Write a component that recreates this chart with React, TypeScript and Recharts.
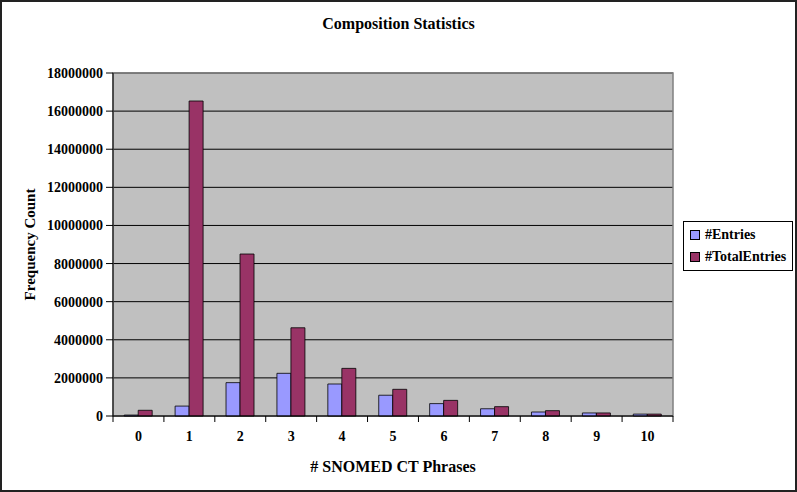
import React from 'react';
import { BarChart, Bar, XAxis, YAxis, CartesianGrid, Legend, ReferenceArea } from 'recharts';

const categories = ['0', '1', '2', '3', '4', '5', '6', '7', '8', '9', '10'];
const entries = [50000, 520000, 1750000, 2240000, 1680000, 1090000, 650000, 380000, 210000, 160000, 100000];
const totalEntries = [300000, 16530000, 8500000, 4630000, 2500000, 1400000, 820000, 490000, 280000, 160000, 100000];
const yTicks = [0, 2000000, 4000000, 6000000, 8000000, 10000000, 12000000, 14000000, 16000000, 18000000];

const data = categories.map((c, i) => ({ name: c, entries: entries[i], total: totalEntries[i] }));

const W = 797;
const H = 492;
const MARGIN = { top: 73, right: 124, bottom: 16, left: 10 };
const Y_AXIS_W = 103;
const X_AXIS_H = 60;
const PLOT_W = W - MARGIN.left - Y_AXIS_W - MARGIN.right;
const BAND = PLOT_W / categories.length;
const FONT = '"Liberation Serif", "Times New Roman", serif';

const XTick = (props: any) => {
  const { x, y, payload, index } = props;
  const half = BAND / 2;
  return (
    <g>
      <line x1={x - half} y1={y} x2={x - half} y2={y + 6} stroke="#000" />
      {index === categories.length - 1 && (
        <line x1={x + half} y1={y} x2={x + half} y2={y + 6} stroke="#000" />
      )}
      <text x={x} y={y} dy={25} textAnchor="middle" fill="#000" fontSize={14} fontWeight="bold" fontFamily={FONT}>
        {payload.value}
      </text>
    </g>
  );
};

const YLabel = (props: any) => {
  const vb = props.viewBox || {};
  const cx = vb.x + 20;
  const cy = vb.y + vb.height / 2;
  return (
    <text x={cx} y={cy} transform={`rotate(-90 ${cx} ${cy})`} textAnchor="middle" dominantBaseline="central"
      fill="#000" fontSize={15} fontWeight="bold" fontFamily={FONT}>
      Frequency Count
    </text>
  );
};

const LegendBox = (props: any) => {
  const items = props.payload || [];
  return (
    <div style={{ border: '1px solid #000', background: '#fff', padding: '2px 0 2px 6px', boxSizing: 'border-box', width: 110 }}>
      {items.map((it: any) => (
        <div key={it.value} style={{ display: 'flex', alignItems: 'center', height: 22 }}>
          <span style={{ display: 'inline-block', width: 8, height: 8, background: it.color, border: '1px solid #000', marginRight: 5 }} />
          <span style={{ fontFamily: FONT, fontWeight: 'bold', fontSize: 14, color: '#000' }}>{it.value}</span>
        </div>
      ))}
    </div>
  );
};

export default function App() {
  return (
    <div style={{ position: 'absolute', left: 0, top: 0, width: W, height: H, background: '#fff' }}>
      <div style={{ position: 'absolute', left: 0, top: 15, width: W, textAlign: 'center', fontFamily: FONT, fontWeight: 'bold', fontSize: 16, color: '#000' }}>
        Composition Statistics
      </div>
      <BarChart width={W} height={H} data={data} margin={MARGIN} barCategoryGap="22%" barGap={0}>
        <CartesianGrid vertical={false} stroke="#000" fill="#C0C0C0" fillOpacity={1} />
        <ReferenceArea y1={0} y2={18000000} stroke="#808080" strokeWidth={1.5} fill="none" fillOpacity={0} />
        <XAxis dataKey="name" height={X_AXIS_H} interval={0} tickLine={false} tickSize={0} tickMargin={0}
          axisLine={{ stroke: '#000' }} tick={<XTick />}
          label={{ value: '# SNOMED CT Phrases', position: 'insideBottom', offset: 4, fill: '#000', fontSize: 16, fontWeight: 'bold', fontFamily: FONT }} />
        <YAxis width={Y_AXIS_W} domain={[0, 18000000]} ticks={yTicks} interval={0} tickSize={7} tickMargin={3}
          axisLine={{ stroke: '#000' }} tickLine={{ stroke: '#000' }}
          tick={{ fill: '#000', fontSize: 14, fontWeight: 'bold', fontFamily: FONT }}
          label={<YLabel />} />
        <Legend layout="vertical" align="center" verticalAlign="middle" wrapperStyle={{ left: 683, top: 221, width: 110 }} content={<LegendBox />} />
        <Bar dataKey="entries" name="#Entries" fill="#9999FF" stroke="#000" strokeWidth={0.8} isAnimationActive={false} />
        <Bar dataKey="total" name="#TotalEntries" fill="#993366" stroke="#000" strokeWidth={0.8} isAnimationActive={false} />
      </BarChart>
      <div style={{ position: 'absolute', left: 0, top: 0, width: W, height: H, border: '2px solid #222', boxSizing: 'border-box', pointerEvents: 'none' }} />
    </div>
  );
}
